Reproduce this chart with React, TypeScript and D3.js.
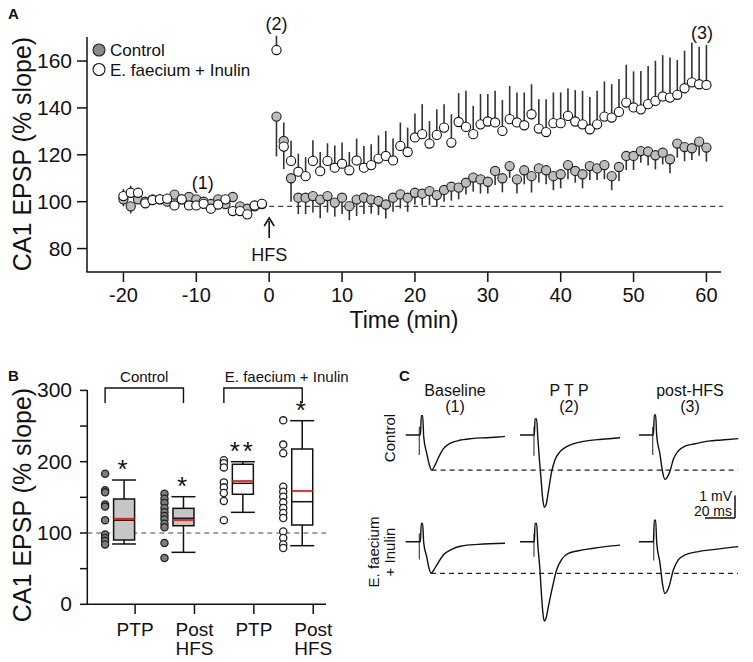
import React from 'react';
import * as d3 from 'd3';

const FONT = '"Liberation Sans", Arial, Helvetica, sans-serif';

// ---------- Panel A data ----------
const timesPre = [-20, -19, -18, -17, -16, -15, -14, -13, -12, -11, -10, -9, -8, -7, -6, -5, -4, -3, -2, -1];
const controlPre = [101, 98, 101, 100, 101, 101, 100, 103, 101, 102, 101, 100, 99, 101, 99, 102, 98, 97, 98, 99];
const controlPreErr = [3, 3, 2, 2, 2, 2, 2, 2, 2, 2, 2, 2, 2, 2, 2, 2, 2, 2, 2, 2];
const efPre = [102.4, 103.8, 103.8, 99.3, 100.7, 101, 101.3, 98.4, 101, 98.4, 98.4, 99.1, 97, 98.8, 101, 96, 96, 94.6, 98.4, 99.1];
const efPreErr = [3, 3, 2, 2, 2, 2, 2, 2, 2, 2, 2, 2, 2, 2, 2, 2, 2, 2, 2, 2];

const timesPost = [1, 2, 3, 4, 5, 6, 7, 8, 9, 10, 11, 12, 13, 14, 15, 16, 17, 18, 19, 20,
  21, 22, 23, 24, 25, 26, 27, 28, 29, 30, 31, 32, 33, 34, 35, 36, 37, 38, 39, 40,
  41, 42, 43, 44, 45, 46, 47, 48, 49, 50, 51, 52, 53, 54, 55, 56, 57, 58, 59, 60];
const controlPost = [136.3, 125.9, 110, 101.7, 101.7, 102.4, 100.9, 102.4, 99.6, 101.7,
  98.1, 100.9, 101.7, 100.9, 100.3, 98.8, 101.7, 103.1, 101.7, 103.8,
  103.4, 104.5, 102.8, 105, 106.4, 106, 108.1, 110.3, 109.5, 108.5,
  113.1, 110, 115.2, 109.5, 113.4, 110.9, 114.2, 113.4, 110.9, 111.7,
  115.6, 113.1, 111.7, 115.2, 114.2, 115.6, 110.9, 114.8, 119.5, 119.5,
  121.6, 121.4, 119.8, 120.9, 118.1, 124.8, 123.3, 122.8, 125.6, 123.1];
const controlPostErr = [17, 12, 10, 7, 7, 7, 8, 7, 6, 7,
  6, 7, 7, 6, 6, 6, 6, 6, 6, 5,
  5, 6, 5, 5, 6, 5, 5, 6, 6, 5,
  6, 6, 5, 6, 6, 7, 6, 6, 6, 6,
  6, 5, 6, 6, 5, 6, 6, 6, 6, 6,
  5, 6, 6, 5, 6, 6, 6, 5, 6, 6];
const efPost = [164.7, 123.5, 117.4, 112.8, 110.9, 117.4, 113, 117.4, 114.5, 116.2,
  113.4, 117.6, 114.5, 115.6, 118.4, 119.5, 117.6, 123.8, 121.2, 127.4,
  128.8, 124.8, 128.5, 131.6, 125.2, 134, 131.9, 128.8, 133, 134.2,
  133.8, 130.2, 135.2, 133.8, 132.6, 137.3, 131.2, 129.7, 133.5, 133.5,
  136.6, 134.2, 133, 130.9, 133, 136.3, 135.9, 138.3, 142.3, 140.2,
  139.4, 141.6, 143, 144.9, 144.4, 145.6, 148.4, 150.9, 150.1, 149.8];
const efPostErr = [6.1, 10.3, 8.6, 7.7, 8.1, 8.8, 8.2, 7.5, 9.5, 9,
  7.8, 9.3, 9.3, 8.9, 9.9, 10.7, 9.4, 10, 10.4, 10.2,
  12.8, 9.6, 10.9, 10, 12.1, 12.3, 15.4, 12.1, 12.9, 11.7,
  13.5, 13.2, 14.2, 12.8, 14, 12.8, 12.5, 14, 13.1, 13.1,
  11.7, 13.4, 14.3, 13.8, 14.3, 15, 14.2, 14, 16.1, 15.4,
  16.4, 16.3, 17.1, 17.6, 17.1, 14.8, 16, 17, 16, 17.1];

const xTicksA = [-20, -10, 0, 10, 20, 30, 40, 50, 60];
const yTicksA = [80, 100, 120, 140, 160];
const baselineA = 98;

// ---------- Panel B data ----------
const categoriesB = ['PTP', 'Post\nHFS', 'PTP', 'Post\nHFS'];
const groupB = ['control', 'control', 'ef', 'ef'];
const groupLabelsB = ['Control', 'E. faecium + Inulin'];
const dotsCtrlPTP = [183, 160, 157, 140, 137, 118, 98, 93, 89, 84];
const dotsCtrlPost = [155, 148, 142, 135, 129, 124, 119, 113, 108, 86, 65];
const dotsEfPTP = [202, 198, 192, 171, 164, 156, 145, 118];
const dotsEfPost = [258, 224, 212, 165, 158, 151, 143, 135, 128, 121, 102, 93, 84, 79];
const boxQ1 = [90.2, 110.2, 154.3, 111.2];
const boxMedian = [118, 120.6, 169.7, 143.9];
const boxMean = [120, 118.2, 172.9, 158.9];
const boxQ3 = [147.7, 134.6, 196.4, 217.8];
const whiskerLo = [84.6, 72.9, 129, 82.2];
const whiskerHi = [174.3, 150.9, 200, 257.5];
const starsB = ['*', '*', '**', '*'];
const yTicksB = [0, 50, 100, 150, 200, 250, 300];
const yLabelsB = [0, 100, 200, 300];

// ---------- Panel C data (ms, mV) ----------
const colTitles = ['Baseline', 'P T P', 'post-HFS'];
const colNums = ['(1)', '(2)', '(3)'];
const rowTitles = [['Control'], ['E. faecium', '+ Inulin']];
const traceCtrlBase = [[0, 0], [9.8, 0], [10.4, 0.86], [11.3, 0.86], [12, -0.07], [14, -0.81], [15.8, -1.33], [17.3, -1.56], [19.6, -1.33], [21.8, -1.01], [25.1, -0.62], [29.6, -0.37], [35.1, -0.25], [44, -0.16], [52.9, -0.12], [61.8, -0.09], [66.2, -0.06]];
const traceCtrlPTP = [[0, 0], [9.6, 0], [10, 0.71], [11.1, 0.71], [11.8, -0.03], [12.7, -0.89], [14, -1.93], [15.1, -2.81], [16.2, -3.21], [17.6, -3.04], [18.9, -2.52], [21.1, -1.63], [23.3, -1.11], [26.7, -0.74], [31.1, -0.52], [36.7, -0.37], [45.6, -0.25], [54.4, -0.19], [66.7, -0.12]];
const traceCtrlPost = [[0, 0], [9.6, 0], [10.2, 0.89], [11.1, 0.89], [11.8, -0.03], [14, -0.86], [15.6, -1.6], [17.3, -1.97], [18.9, -1.87], [20.7, -1.6], [22.9, -1.08], [26.2, -0.71], [30.7, -0.49], [37.3, -0.39], [46.2, -0.27], [55.1, -0.22], [66.2, -0.16]];
const traceEfBase = [[0, 0], [9.8, 0], [10.4, 0.81], [11.3, 0.81], [12, -0.04], [14, -0.67], [15.6, -1.19], [16.9, -1.41], [18.4, -1.29], [20.7, -1.04], [25.1, -0.59], [30.7, -0.34], [37.3, -0.19], [48.4, -0.12], [66.2, -0.07]];
const traceEfPTP = [[0, 0], [9.6, 0], [10, 0.81], [11.1, 0.81], [11.8, -0.04], [13.3, -1.26], [14.4, -2.44], [15.3, -3.19], [16.2, -3.53], [17.3, -3.41], [18.9, -2.89], [22.2, -1.85], [24.4, -1.26], [27.8, -0.79], [32.2, -0.52], [38.9, -0.4], [47.8, -0.3], [56.7, -0.22], [66.7, -0.15]];
const traceEfPost = [[0, 0], [9.6, 0], [10.2, 0.96], [11.1, 0.96], [11.8, -0.04], [14, -0.96], [15.6, -1.85], [17.3, -2.3], [18.9, -2.18], [20, -2], [22.9, -1.26], [26.2, -0.81], [30.7, -0.59], [39.6, -0.44], [50.7, -0.34], [66.2, -0.22]];
// stimulus artifact: [ms, top mV, bottom mV]
const artifacts = [[[9.1, 0.37, -0.89], [9.3, 0.37, -0.92], [9.1, 0.37, -0.89]], [[9.1, 0.37, -0.79], [9.3, 0.37, -0.67], [9.8, 0.37, -0.84]]];
const traces = [[traceCtrlBase, traceCtrlPTP, traceCtrlPost], [traceEfBase, traceEfPTP, traceEfPost]];
const scaleBarMs = 20;
const scaleBarMv = 1;

export default function App() {
  // Panel A scales
  const xA = d3.scaleLinear().domain([-25, 62]).range([87, 721]);
  const yA = d3.scaleLinear().domain([70, 170]).range([272, 37.6]);
  const rA = 4.6;

  // Panel B scales
  const xB = d3.scaleLinear().domain([-0.81, 3.215]).range([87, 326]);
  const yB = d3.scaleLinear().domain([0, 300]).range([604.3, 390.4]);
  const dotsB = [dotsCtrlPTP, dotsCtrlPost, dotsEfPTP, dotsEfPost];

  // Panel C scales
  const msS = d3.scaleLinear().domain([0, 20]).range([0, 30]);
  const mvS = d3.scaleLinear().domain([0, 1]).range([0, -22.5]);
  const traceLine = d3.line<number[]>().x(d => msS(d[0])).y(d => mvS(d[1])).curve(d3.curveMonotoneX);
  const colX = [405.7, 520, 639];
  const rowY = [435, 541.7];

  const txt = { fontFamily: FONT, fill: '#111' } as const;

  return (
    <svg width={753} height={662} style={{ position: 'absolute', left: 0, top: 0, background: '#fff' }}>
      <rect x={0} y={0} width={753} height={662} fill="#fff" />
      {/* ================= Panel A ================= */}
      <text x={8} y={19} fontSize={15} fontWeight="bold" style={txt}>A</text>
      <text transform={`translate(31,${154}) rotate(-90)`} textAnchor="middle" fontSize={25} style={txt}>CA1 EPSP (% slope)</text>
      {/* axes */}
      <line x1={87} x2={87} y1={37} y2={272} stroke="#111" strokeWidth={1.5} />
      <line x1={86.3} x2={721} y1={272} y2={272} stroke="#111" strokeWidth={1.5} />
      {yTicksA.map(t => (
        <g key={'ya' + t}>
          <line x1={77} x2={87} y1={yA(t)} y2={yA(t)} stroke="#111" strokeWidth={1.5} />
          <text x={72} y={yA(t) + 7} textAnchor="end" fontSize={21} style={txt}>{t}</text>
        </g>
      ))}
      {xTicksA.map(t => (
        <g key={'xa' + t}>
          <line x1={xA(t)} x2={xA(t)} y1={272} y2={282} stroke="#111" strokeWidth={1.5} />
          <text x={xA(t)} y={302} textAnchor="middle" fontSize={20} style={txt}>{t}</text>
        </g>
      ))}
      <text x={404} y={328} textAnchor="middle" fontSize={23} style={txt}>Time (min)</text>
      {/* baseline dashed */}
      <line x1={xA(0)} x2={xA(62.3)} y1={yA(baselineA)} y2={yA(baselineA)} stroke="#444" strokeWidth={1.2} strokeDasharray="5,4" />
      {/* error bars */}
      {timesPre.map((t, i) => (
        <g key={'epre' + t}>
          <line x1={xA(t)} x2={xA(t)} y1={yA(controlPre[i])} y2={yA(controlPre[i] - controlPreErr[i])} stroke="#333" strokeWidth={1.6} />
          <line x1={xA(t)} x2={xA(t)} y1={yA(efPre[i])} y2={yA(efPre[i] + efPreErr[i])} stroke="#333" strokeWidth={1.6} />
        </g>
      ))}
      {timesPost.map((t, i) => (
        <g key={'epost' + t}>
          <line x1={xA(t)} x2={xA(t)} y1={yA(controlPost[i])} y2={yA(controlPost[i] - controlPostErr[i])} stroke="#333" strokeWidth={1.6} />
          <line x1={xA(t)} x2={xA(t)} y1={yA(efPost[i])} y2={yA(efPost[i] + efPostErr[i])} stroke="#333" strokeWidth={1.6} />
        </g>
      ))}
      {/* gray (control) circles */}
      {timesPre.map((t, i) => (
        <circle key={'cpre' + t} cx={xA(t)} cy={yA(controlPre[i])} r={rA} fill="#bdbdbd" stroke="#222" strokeWidth={1.1} />
      ))}
      {timesPost.map((t, i) => (
        <circle key={'cpost' + t} cx={xA(t)} cy={yA(controlPost[i])} r={rA} fill="#bdbdbd" stroke="#222" strokeWidth={1.1} />
      ))}
      {/* white (E. faecium + Inulin) circles */}
      {timesPre.map((t, i) => (
        <circle key={'wpre' + t} cx={xA(t)} cy={yA(efPre[i])} r={rA} fill="#fff" stroke="#111" strokeWidth={1.1} />
      ))}
      {timesPost.map((t, i) => (
        <circle key={'wpost' + t} cx={xA(t)} cy={yA(efPost[i])} r={rA} fill="#fff" stroke="#111" strokeWidth={1.1} />
      ))}
      {/* annotations */}
      <text x={xA(-9.1)} y={189} textAnchor="middle" fontSize={18} style={txt}>(1)</text>
      <text x={xA(1)} y={30} textAnchor="middle" fontSize={18} style={txt}>(2)</text>
      <text x={xA(59.4)} y={39} textAnchor="middle" fontSize={18} style={txt}>(3)</text>
      <line x1={xA(0)} x2={xA(0)} y1={221} y2={238} stroke="#111" strokeWidth={1.6} />
      <path d={`M${xA(0) - 5},${226} L${xA(0)},${218} L${xA(0) + 5},${226}`} fill="none" stroke="#111" strokeWidth={1.6} />
      <text x={xA(0)} y={261} textAnchor="middle" fontSize={18} style={txt}>HFS</text>
      {/* legend */}
      <circle cx={99} cy={50} r={6} fill="#8a8a8a" stroke="#222" strokeWidth={1.1} />
      <text x={110} y={56} fontSize={17} style={txt}>Control</text>
      <circle cx={99} cy={69.5} r={6} fill="#fff" stroke="#111" strokeWidth={1.1} />
      <text x={110} y={75.5} fontSize={17} style={txt}>E. faecium + Inulin</text>

      {/* ================= Panel B ================= */}
      <text x={8} y={381} fontSize={15} fontWeight="bold" style={txt}>B</text>
      <text transform={`translate(31,${505}) rotate(-90)`} textAnchor="middle" fontSize={25} style={txt}>CA1 EPSP (% slope)</text>
      <line x1={87.3} x2={87.3} y1={390} y2={604.3} stroke="#111" strokeWidth={1.5} />
      <line x1={86.6} x2={326} y1={604.3} y2={604.3} stroke="#111" strokeWidth={1.5} />
      {yTicksB.map(t => (
        <line key={'ybt' + t} x1={80} x2={87.3} y1={yB(t)} y2={yB(t)} stroke="#111" strokeWidth={1.5} />
      ))}
      {yLabelsB.map(t => (
        <text key={'ybl' + t} x={72} y={yB(t) + 7} textAnchor="end" fontSize={21} style={txt}>{t}</text>
      ))}
      <line x1={87.3} x2={326} y1={yB(100)} y2={yB(100)} stroke="#444" strokeWidth={1.2} strokeDasharray="5,4" />
      {categoriesB.map((c, i) => {
        const tx = xB(i);
        const lines = c.split('\n');
        return (
          <g key={'cat' + i}>
            <line x1={tx} x2={tx} y1={604.3} y2={614} stroke="#111" strokeWidth={1.5} />
            {lines.map((l, j) => (
              <text key={j} x={tx} y={636 + j * 19} textAnchor="middle" fontSize={19} style={txt}>{l}</text>
            ))}
          </g>
        );
      })}
      {categoriesB.map((c, i) => {
        const tx = xB(i);
        const bc = tx - 11;
        const isCtrl = groupB[i] === 'control';
        return (
          <g key={'box' + i}>
            {/* whiskers */}
            <line x1={bc} x2={bc} y1={yB(whiskerHi[i])} y2={yB(boxQ3[i])} stroke="#111" strokeWidth={1.5} />
            <line x1={bc} x2={bc} y1={yB(boxQ1[i])} y2={yB(whiskerLo[i])} stroke="#111" strokeWidth={1.5} />
            <line x1={bc - 12} x2={bc + 12} y1={yB(whiskerHi[i])} y2={yB(whiskerHi[i])} stroke="#111" strokeWidth={1.5} />
            <line x1={bc - 12} x2={bc + 12} y1={yB(whiskerLo[i])} y2={yB(whiskerLo[i])} stroke="#111" strokeWidth={1.5} />
            <rect x={bc - 10.5} y={yB(boxQ3[i])} width={21} height={yB(boxQ1[i]) - yB(boxQ3[i])} fill={isCtrl ? '#c6c6c6' : '#fff'} stroke="#111" strokeWidth={1.5} />
            <line x1={bc - 10.5} x2={bc + 10.5} y1={yB(boxMedian[i])} y2={yB(boxMedian[i])} stroke="#111" strokeWidth={1.5} />
            <line x1={bc - 10.5} x2={bc + 10.5} y1={yB(boxMean[i])} y2={yB(boxMean[i])} stroke="#e8201c" strokeWidth={1.8} />
            {/* dots */}
            {dotsB[i].map((v, k) => (
              <circle key={k} cx={tx - 30} cy={yB(v)} r={3.6} fill={isCtrl ? '#7d7d7d' : '#fff'} stroke="#222" strokeWidth={1.3} />
            ))}
            {/* stars */}
            <text x={bc} y={yB(whiskerHi[i]) - 2} textAnchor="middle" fontSize={26} style={txt} letterSpacing={3}>{starsB[i]}</text>
          </g>
        );
      })}
      {/* group brackets */}
      {[0, 1].map(g => {
        const x1 = xB(g * 2) - 30;
        const x2 = xB(g * 2 + 1) - 11;
        return (
          <g key={'br' + g}>
            <path d={`M${x1},403 L${x1},388 L${x2},388 L${x2},403`} fill="none" stroke="#111" strokeWidth={1.4} />
            {g === 0 ? (
              <text x={(x1 + x2) / 2} y={382} textAnchor="middle" fontSize={15} style={txt}>{groupLabelsB[g]}</text>
            ) : (
              <text x={x1 + 1} y={382} textAnchor="start" fontSize={15} style={txt}>{groupLabelsB[g]}</text>
            )}
          </g>
        );
      })}

      {/* ================= Panel C ================= */}
      <text x={399} y={381} fontSize={15} fontWeight="bold" style={txt}>C</text>
      {colTitles.map((c, i) => (
        <g key={'ct' + i}>
          <text x={[455, 569, 690][i]} y={396} textAnchor="middle" fontSize={16} style={txt}>{c}</text>
          <text x={[455, 569, 690][i]} y={412} textAnchor="middle" fontSize={16} style={txt}>{colNums[i]}</text>
        </g>
      ))}
      {rowTitles.map((r, i) => (
        <g key={'rt' + i}>
          {r.map((l, j) => (
            <text key={j} transform={`translate(${395 - (r.length - 1 - j) * 16},${[438, 552][i]}) rotate(-90)`} textAnchor="middle" fontSize={15} style={txt}>{l}</text>
          ))}
        </g>
      ))}
      {traces.map((row, ri) => {
        const base = row[0];
        const minPt = base.reduce((a, b) => (b[1] < a[1] ? b : a));
        return (
          <g key={'row' + ri}>
            <line x1={colX[0] + msS(minPt[0])} x2={738} y1={rowY[ri] + mvS(minPt[1])} y2={rowY[ri] + mvS(minPt[1])} stroke="#222" strokeWidth={1.2} strokeDasharray="5,4" />
            {row.map((tr, ci) => {
              const a = artifacts[ri][ci];
              return (
                <g key={'tr' + ci} transform={`translate(${colX[ci]},${rowY[ri]})`}>
                  <line x1={msS(a[0])} x2={msS(a[0])} y1={mvS(a[1])} y2={mvS(a[2])} stroke="#555" strokeWidth={1.3} />
                  <path d={traceLine(tr) || ''} fill="none" stroke="#111" strokeWidth={1.4} strokeLinejoin="round" />
                </g>
              );
            })}
          </g>
        );
      })}
      {/* scale bar */}
      <g transform="translate(735,518)">
        <line x1={0} x2={0} y1={0} y2={mvS(scaleBarMv)} stroke="#111" strokeWidth={1.5} />
        <line x1={0} x2={-msS(scaleBarMs)} y1={0} y2={0} stroke="#111" strokeWidth={1.5} />
        <text x={-3} y={-17} textAnchor="end" fontSize={14} style={txt}>1 mV</text>
        <text x={-3} y={-2} textAnchor="end" fontSize={14} style={txt}>20 ms</text>
      </g>
    </svg>
  );
}
